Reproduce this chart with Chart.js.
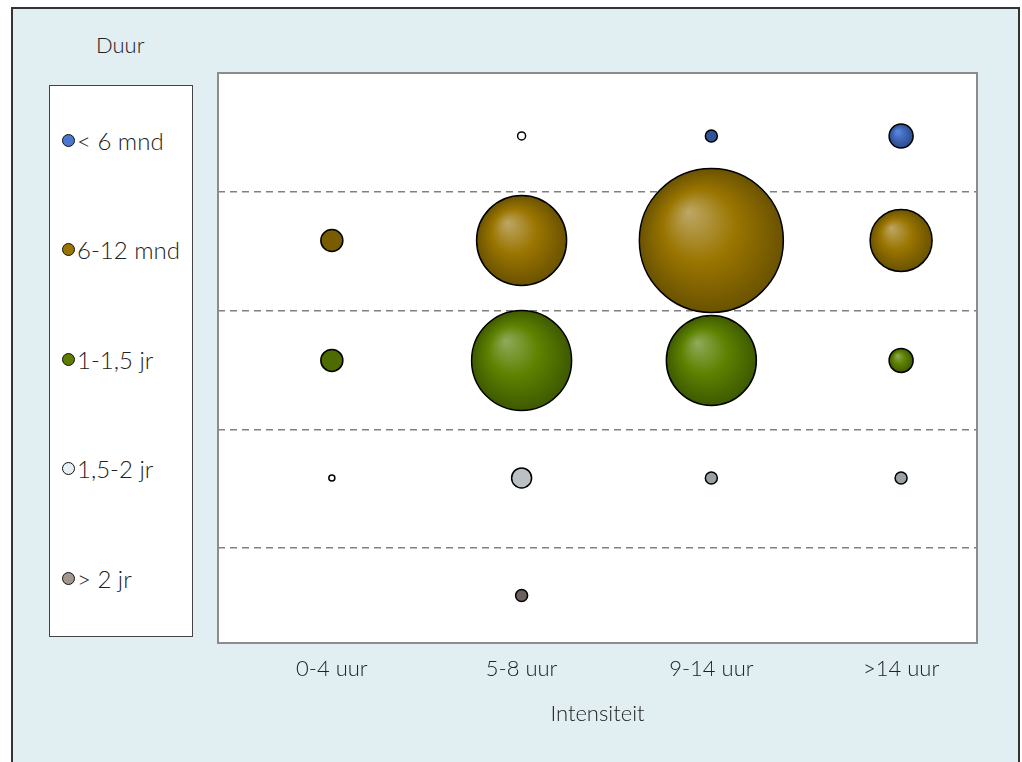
<!DOCTYPE html>
<html>
<head>
<meta charset="utf-8">
<script src="https://cdn.jsdelivr.net/npm/chart.js@4/dist/chart.umd.min.js"></script>
<style>
  html, body { margin: 0; padding: 0; background: #fff; }
  body { width: 1022px; height: 762px; position: relative; overflow: hidden; font-family: Lato, "Open Sans", sans-serif; color: #222; }
  #frame { position: absolute; left: 11px; top: 7px; width: 1005px; height: 760px; border: 2px solid #333; border-bottom: none; background: #e1eef2; }
  #wrap { position: absolute; left: 0; top: 0; width: 1022px; height: 762px; }
  #legendTitle { position: absolute; left: 96px; top: 31px; font-size: 22px; font-weight: 300; }
  #legend { position: absolute; left: 49px; top: 85px; width: 142px; height: 550px; border: 1.5px solid #444; background: #fff; }
  .item { position: absolute; left: 12px; height: 28px; display: flex; align-items: center; font-size: 24px; font-weight: 300; white-space: nowrap; }
  .dot { width: 11px; height: 11px; border-radius: 50%; border: 1.5px solid #111; margin-right: 2px; }
</style>
</head>
<body>
<div id="frame"></div>
<div id="legendTitle">Duur</div>
<div id="legend"></div>
<div id="wrap"><canvas id="chart" width="1022" height="762"></canvas></div>
<script>
const intensityLabels = ['0-4 uur', '5-8 uur', '9-14 uur', '>14 uur'];
const durationLabels = ['< 6 mnd', '6-12 mnd', '1-1,5 jr', '1,5-2 jr', '> 2 jr'];
// row position of each duration on the y axis
const durationLevels = [4.97, 4.09, 3.08, 2.09, 1.1];
// bubble radius (px) per intensity, one array per duration
const sizeLt6m = [0, 4, 6, 12];
const size6to12m = [11, 45, 72, 31];
const size1to15y = [11, 50, 45, 12];
const size15to2y = [3, 10, 6, 6];
const sizeGt2y = [0, 6, 0, 0];

const allSizes = [sizeLt6m, size6to12m, size1to15y, size15to2y, sizeGt2y];

const legendColors = ['#4a78d0', '#9a7400', '#5c7d00', '#e4f0f4', '#a4968f'];
// shading per series: highlight, body, rim, flat (small bubbles)
const shades = [
  { hi: '#5d8de2', mid: '#3f68b8', lo: '#2b4b8a', flat: '#2f5597' },
  { hi: '#bea766', mid: '#9a7500', lo: '#6a5200', flat: '#7a5c00' },
  { hi: '#90ab5c', mid: '#5e8200', lo: '#3e5900', flat: '#4e6b00' },
  { hi: '#b9c1c4', mid: '#b9c1c4', lo: '#b9c1c4', flat: '#9aa1a4' },
  { hi: '#6b625d', mid: '#6b625d', lo: '#6b625d', flat: '#6b625d' },
];
// single bubbles that are drawn in another fill
const pointFill = { '0-1': '#ffffff', '3-0': '#ffffff', '3-1': '#b9c1c4' };

const legend = document.getElementById('legend');
durationLabels.forEach((label, i) => {
  const item = document.createElement('div');
  item.className = 'item';
  item.style.top = (40 + i * 109.5) + 'px';
  item.innerHTML = '<span class="dot" style="background:' + legendColors[i] + '"></span>' + label;
  legend.appendChild(item);
});

const sphere = (seriesIndex) => (context) => {
  const raw = context.raw;
  const shade = shades[seriesIndex];
  if (!raw) {
    return shade.mid;
  }
  const key = seriesIndex + '-' + (raw.x - 1);
  if (pointFill[key]) {
    return pointFill[key];
  }
  const chart = context.chart;
  if (raw.r < 12 || !chart.chartArea) {
    return shade.flat;
  }
  const x = chart.scales.x.getPixelForValue(raw.x);
  const y = chart.scales.y.getPixelForValue(raw.y);
  const gradient = chart.ctx.createRadialGradient(x - raw.r * 0.32, y - raw.r * 0.4, 0, x, y, raw.r);
  gradient.addColorStop(0, shade.hi);
  gradient.addColorStop(0.5, shade.mid);
  gradient.addColorStop(1, shade.lo);
  return gradient;
};

const datasets = durationLabels.map((label, i) => ({
  label,
  data: allSizes[i]
    .map((r, j) => ({ x: j + 1, y: durationLevels[i], r }))
    .filter((point) => point.r > 0),
  backgroundColor: sphere(i),
  borderColor: '#000',
  borderWidth: 1.5,
}));

const plotFrame = {
  id: 'plotFrame',
  beforeDraw(chart) {
    const { ctx, chartArea: a } = chart;
    ctx.save();
    ctx.fillStyle = '#fff';
    ctx.fillRect(a.left, a.top, a.width, a.height);
    ctx.restore();
  },
  beforeDatasetsDraw(chart) {
    const { ctx, chartArea: a } = chart;
    ctx.save();
    ctx.strokeStyle = '#8c8c8c';
    ctx.lineWidth = 2;
    ctx.strokeRect(a.left, a.top, a.width, a.height);
    ctx.restore();
  },
};

new Chart(document.getElementById('chart'), {
  type: 'bubble',
  data: { datasets },
  plugins: [plotFrame],
  options: {
    responsive: false,
    animation: false,
    events: [],
    layout: { autoPadding: false, padding: { left: 218, right: 45, top: 73, bottom: 0 } },
    plugins: { legend: { display: false }, tooltip: { enabled: false } },
    scales: {
      x: {
        type: 'linear',
        min: 0.4,
        max: 4.4,
        grid: { display: false, drawTicks: false },
        border: { display: false },
        afterBuildTicks: (scale) => {
          scale.ticks = intensityLabels.map((_, i) => ({ value: i + 1 }));
        },
        afterFit: (scale) => {
          scale.height = 119;
          scale.paddingLeft = 0;
          scale.paddingRight = 0;
        },
        ticks: {
          autoSkip: false,
          maxRotation: 0,
          padding: 13,
          color: '#222',
          font: { family: 'Lato', size: 22, weight: '300' },
          callback: (value) => intensityLabels[value - 1],
        },
        title: {
          display: true,
          text: 'Intensiteit',
          color: '#222',
          font: { family: 'Lato', size: 22, weight: '300' },
          padding: { top: 0, bottom: 35 },
        },
      },
      y: {
        type: 'linear',
        min: 0.7,
        max: 5.5,
        afterBuildTicks: (scale) => {
          scale.ticks = [1.5, 2.5, 3.5, 4.5].map((value) => ({ value }));
        },
        afterFit: (scale) => {
          scale.width = 0;
          scale.paddingTop = 0;
          scale.paddingBottom = 0;
        },
        ticks: { display: false },
        grid: { color: '#808080', lineWidth: 1.5, drawTicks: false },
        border: { display: false, dash: [7, 5] },
      },
    },
  },
});
</script>
</body>
</html>
